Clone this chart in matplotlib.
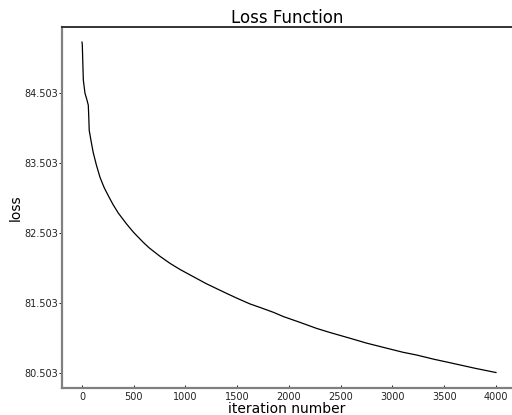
import matplotlib
matplotlib.use("Agg")
import matplotlib.pyplot as plt

# values
iterations = [0, 3, 13, 29, 45, 61, 66, 70, 90, 109, 140, 174, 190, 215, 239, 271, 300,
              350, 396, 432, 500, 592, 650, 754, 850, 950, 1075, 1200, 1398, 1500,
              1623, 1720, 1850, 1945, 2100, 2268, 2400, 2589, 2750, 2911, 3100, 3234,
              3400, 3556, 3800, 4000]
loss = [85.23, 85.20, 84.69, 84.50, 84.42, 84.33, 84.15, 83.97, 83.80, 83.65, 83.47,
        83.30, 83.24, 83.15, 83.08, 82.99, 82.91, 82.79, 82.70, 82.63, 82.51, 82.37,
        82.29, 82.17, 82.07, 81.98, 81.88, 81.78, 81.64, 81.57, 81.49, 81.44, 81.37,
        81.31, 81.23, 81.14, 81.08, 81.00, 80.93, 80.87, 80.80, 80.76, 80.70, 80.65,
        80.57, 80.51]
y_ticks = [80.503, 81.503, 82.503, 83.503, 84.503]
x_ticks = [0, 500, 1000, 1500, 2000, 2500, 3000, 3500, 4000]

fig = plt.figure(figsize=(5.12, 4.15), dpi=100)
ax = fig.add_axes([62 / 512, 1 - 388 / 415, 450 / 512, 361 / 415])

ax.plot(iterations, loss, color="black", linewidth=0.9)

ax.set_xlim(-193, 4155)
ax.set_ylim(80.289, 85.446)
ax.set_xticks(x_ticks)
ax.set_yticks(y_ticks)
ax.set_yticklabels(["%.3f" % v for v in y_ticks])

ax.tick_params(axis="y", direction="out", length=2, width=0.6, labelsize=7, pad=1,
               labelcolor="#222222")
ax.tick_params(axis="x", direction="in", length=2, width=0.6, labelsize=7, pad=3,
               labelcolor="#222222")

ax.spines["right"].set_visible(False)
ax.spines["left"].set_color("#808080")
ax.spines["left"].set_linewidth(1.6)
ax.spines["bottom"].set_color("#808080")
ax.spines["bottom"].set_linewidth(1.6)
ax.spines["top"].set_color("#333333")
ax.spines["top"].set_linewidth(1.4)

ax.set_title("Loss Function", fontsize=12, pad=1)
ax.set_xlabel("iteration number", fontsize=10, labelpad=0)
ax.set_ylabel("loss", fontsize=10, labelpad=1)

fig.savefig("out.png", dpi=100)
